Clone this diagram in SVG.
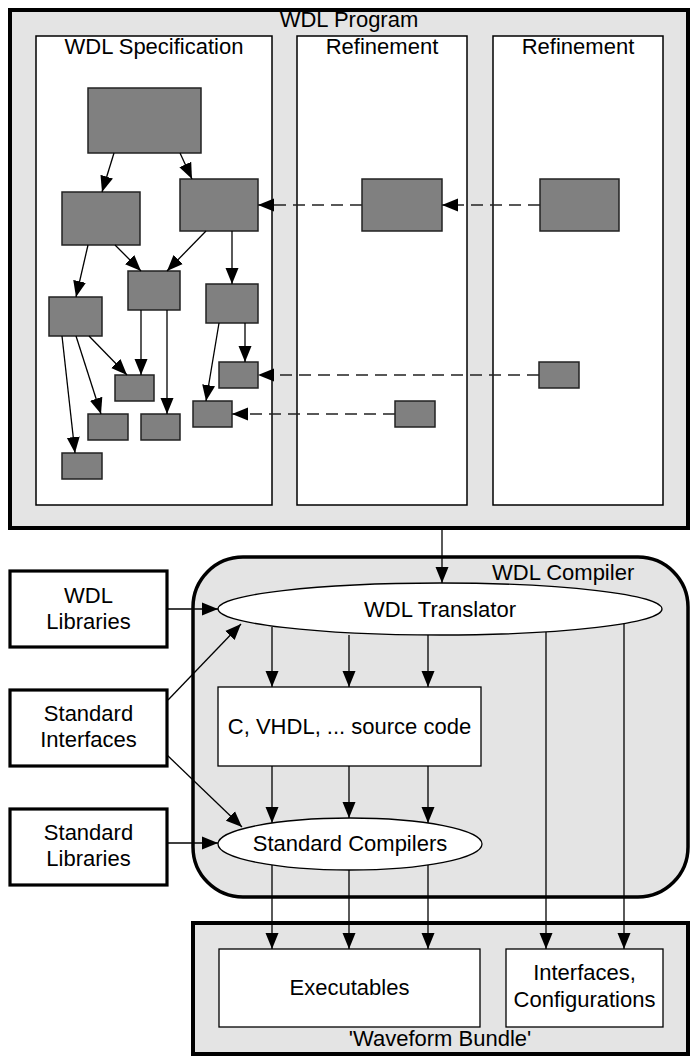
<svg xmlns="http://www.w3.org/2000/svg" width="691" height="1057" viewBox="0 0 691 1057">
<defs>
<marker id="ah" markerUnits="userSpaceOnUse" markerWidth="17" markerHeight="14" refX="16" refY="7" orient="auto" viewBox="0 0 17 14">
<path d="M0,0.5 L16,7 L0,13.5 z" fill="#000" stroke="none"/>
</marker>
<style>
text{font-family:"Liberation Sans",Arial,sans-serif;font-size:22px;fill:#000}
.mid{text-anchor:middle}
.cont{fill:#e4e4e4;stroke:#000;stroke-width:4}
.panel{fill:#fff;stroke:#000;stroke-width:1.5}
.dk{fill:#808080;stroke:#222;stroke-width:1.5}
.wb{fill:#fff;stroke:#000;stroke-width:1.3}
.ext{fill:#fff;stroke:#000;stroke-width:3.2}
.ln{fill:none;stroke:#000;stroke-width:1.3;marker-end:url(#ah)}
.ds{fill:none;stroke:#222;stroke-width:1.4;stroke-dasharray:12 7;marker-end:url(#ah)}
</style>
</defs>

<g id="wdl-program">
<rect class="cont" x="10" y="10" width="678" height="518"/>
<text class="mid" x="349" y="27">WDL Program</text>
</g>
<g id="wdl-specification">
<rect class="panel" x="36" y="36" width="236" height="469"/>
<text class="mid" x="154" y="54">WDL Specification</text>
</g>
<g id="refinement-1">
<rect class="panel" x="297" y="36" width="170" height="469"/>
<text class="mid" x="382" y="54">Refinement</text>
</g>
<g id="refinement-2">
<rect class="panel" x="493" y="36" width="170" height="469"/>
<text class="mid" x="578" y="54">Refinement</text>
</g>

<g id="spec-a"><rect class="dk" x="88" y="88" width="113" height="65"/></g>
<g id="spec-b"><rect class="dk" x="62" y="192" width="78" height="53"/></g>
<g id="spec-c"><rect class="dk" x="180" y="179" width="78" height="52"/></g>
<g id="spec-d"><rect class="dk" x="49" y="297" width="53" height="39"/></g>
<g id="spec-e"><rect class="dk" x="128" y="271" width="52" height="39"/></g>
<g id="spec-f"><rect class="dk" x="206" y="284" width="52" height="39"/></g>
<g id="spec-g"><rect class="dk" x="115" y="375" width="39" height="26"/></g>
<g id="spec-h"><rect class="dk" x="219" y="362" width="39" height="26"/></g>
<g id="spec-i"><rect class="dk" x="88" y="414" width="40" height="26"/></g>
<g id="spec-j"><rect class="dk" x="141" y="414" width="39" height="26"/></g>
<g id="spec-k"><rect class="dk" x="193" y="401" width="39" height="26"/></g>
<g id="spec-l"><rect class="dk" x="62" y="453" width="40" height="26"/></g>
<g id="ref1-a"><rect class="dk" x="362" y="179" width="80" height="52"/></g>
<g id="ref1-b"><rect class="dk" x="395" y="401" width="40" height="26"/></g>
<g id="ref2-a"><rect class="dk" x="540" y="179" width="79" height="52"/></g>
<g id="ref2-b"><rect class="dk" x="539" y="362" width="40" height="26"/></g>

<g id="wdl-compiler">
<rect class="cont" x="193" y="557" width="495" height="340" rx="50" ry="50" style="stroke-width:3.5"/>
<text x="492" y="580">WDL Compiler</text>
</g>
<g id="wdl-translator">
<ellipse class="wb" cx="440" cy="609" rx="222" ry="26"/>
<text class="mid" x="440" y="617">WDL Translator</text>
</g>
<g id="source-code">
<rect class="wb" x="218" y="687" width="263" height="79"/>
<text class="mid" x="349.5" y="734">C, VHDL, ... source code</text>
</g>
<g id="standard-compilers">
<ellipse class="wb" cx="350" cy="844" rx="132" ry="26"/>
<text class="mid" x="350" y="851">Standard Compilers</text>
</g>
<g id="wdl-libraries">
<rect class="ext" x="10" y="571" width="157" height="76"/>
<text class="mid" x="88.5" y="603">WDL</text>
<text class="mid" x="88.5" y="629">Libraries</text>
</g>
<g id="standard-interfaces">
<rect class="ext" x="10" y="690" width="157" height="76"/>
<text class="mid" x="88.5" y="721">Standard</text>
<text class="mid" x="88.5" y="747">Interfaces</text>
</g>
<g id="standard-libraries">
<rect class="ext" x="10" y="809" width="157" height="76"/>
<text class="mid" x="88.5" y="840">Standard</text>
<text class="mid" x="88.5" y="866">Libraries</text>
</g>
<g id="waveform-bundle">
<rect class="cont" x="193" y="923" width="495" height="131"/>
<text class="mid" x="440" y="1046">'Waveform Bundle'</text>
</g>
<g id="executables">
<rect class="wb" x="219" y="949" width="261" height="78"/>
<text class="mid" x="349.5" y="995">Executables</text>
</g>
<g id="interfaces-configurations">
<rect class="wb" x="506" y="949" width="157" height="78"/>
<text class="mid" x="584.5" y="980">Interfaces,</text>
<text class="mid" x="584.5" y="1007">Configurations</text>
</g>

<g id="connectors">
<line class="ln" x1="114" y1="153" x2="102" y2="192"/>
<line class="ln" x1="180" y1="153" x2="192" y2="179"/>
<line class="ln" x1="88" y1="245" x2="76" y2="297"/>
<line class="ln" x1="115" y1="245" x2="141" y2="271"/>
<line class="ln" x1="206" y1="231" x2="167" y2="271"/>
<line class="ln" x1="232" y1="231" x2="232" y2="284"/>
<line class="ln" x1="62" y1="336" x2="75" y2="453"/>
<line class="ln" x1="76" y1="336" x2="101" y2="414"/>
<line class="ln" x1="89" y1="336" x2="127" y2="375"/>
<line class="ln" x1="141" y1="310" x2="141" y2="375"/>
<line class="ln" x1="167" y1="310" x2="167" y2="414"/>
<line class="ln" x1="219" y1="323" x2="206" y2="401"/>
<line class="ln" x1="245" y1="323" x2="245" y2="362"/>
<line class="ds" x1="362" y1="205" x2="258" y2="205"/>
<line class="ds" x1="540" y1="205" x2="442" y2="205"/>
<line class="ds" x1="539" y1="375" x2="258" y2="375"/>
<line class="ds" x1="395" y1="414" x2="232" y2="414"/>

<line class="ln" x1="442" y1="528" x2="442" y2="583"/>
<line class="ln" x1="167" y1="609" x2="218" y2="609"/>
<line class="ln" x1="168" y1="700" x2="241" y2="624"/>
<line class="ln" x1="167" y1="755" x2="242" y2="827"/>
<line class="ln" x1="167" y1="843" x2="218" y2="843"/>
<line class="ln" x1="272" y1="627" x2="272" y2="687"/>
<line class="ln" x1="349" y1="635" x2="349" y2="687"/>
<line class="ln" x1="428" y1="635" x2="428" y2="687"/>
<line class="ln" x1="272" y1="766" x2="272" y2="823"/>
<line class="ln" x1="349" y1="766" x2="349" y2="818"/>
<line class="ln" x1="428" y1="766" x2="428" y2="823"/>
<line class="ln" x1="272" y1="865" x2="272" y2="949"/>
<line class="ln" x1="349" y1="870" x2="349" y2="949"/>
<line class="ln" x1="428" y1="865" x2="428" y2="949"/>
<line class="ln" x1="546" y1="632" x2="546" y2="949"/>
<line class="ln" x1="624" y1="624" x2="624" y2="949"/>
</g>
</svg>
